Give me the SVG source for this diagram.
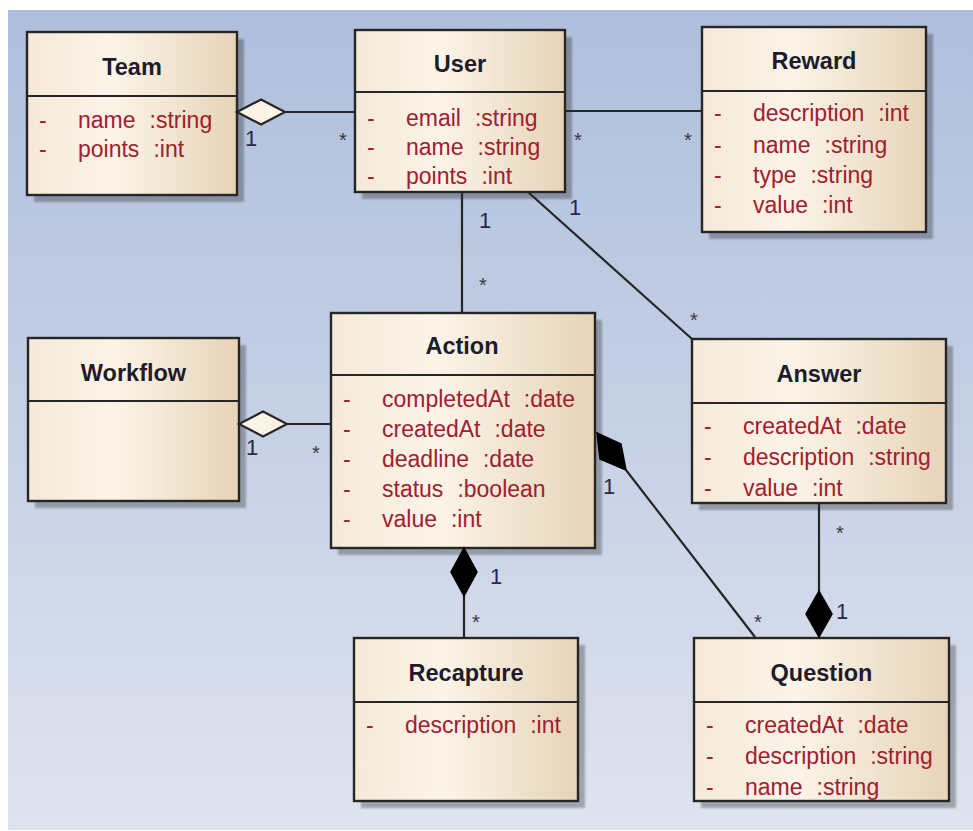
<svg xmlns="http://www.w3.org/2000/svg" width="973" height="831" viewBox="0 0 973 831">
  <defs>
    <linearGradient id="bg" x1="0" y1="0" x2="0" y2="1">
      <stop offset="0" stop-color="#aebedc"/>
      <stop offset="1" stop-color="#dee3ef"/>
    </linearGradient>
    <linearGradient id="cls" x1="0" y1="0" x2="1" y2="0">
      <stop offset="0" stop-color="#f5e9d8"/>
      <stop offset="0.4" stop-color="#fcf4e8"/>
      <stop offset="1" stop-color="#e6d4b8"/>
    </linearGradient>
    <filter id="soft" x="-10%" y="-10%" width="120%" height="120%">
      <feGaussianBlur stdDeviation="1.2"/>
    </filter>
    <style>
      .shadow { fill: #000; opacity: 0.27; filter: url(#soft); }
      .box { fill: url(#cls); stroke: #262626; stroke-width: 2.4; }
      .div { stroke: #262626; stroke-width: 2.2; }
      .title { font-family: "Liberation Sans", Arial, sans-serif; font-weight: bold; font-size: 23.5px; fill: #1c1c2c; text-anchor: middle; }
      .attr { font-family: "Liberation Sans", Arial, sans-serif; font-size: 23px; fill: #a0202e; }
      .line { fill: none; stroke: #262626; stroke-width: 2.2; }
      .hollow { fill: #fbf3e6; stroke: #262626; stroke-width: 2.2; stroke-linejoin: miter; }
      .solid { fill: #000; stroke: #000; stroke-width: 1.5; }
      .mult { font-family: "Liberation Sans", Arial, sans-serif; font-size: 22px; fill: #2a2a48; }
      .star { font-family: "Liberation Sans", Arial, sans-serif; font-size: 20px; fill: #3a3a46; }
    </style>
  </defs>

  <!-- canvas -->
  <rect x="8" y="10" width="965" height="820" fill="url(#bg)"/>

  <!-- classes -->
  <g id="team">
    <rect class="shadow" x="34" y="39" width="210" height="163"/>
    <rect class="box" x="27" y="32" width="210" height="163"/>
    <line class="div" x1="27" y1="96" x2="237" y2="96"/>
    <text class="title" x="132" y="75">Team</text>
    <text class="attr" y="128"><tspan x="39">-</tspan><tspan x="78">name</tspan><tspan dx="14">:string</tspan></text>
    <text class="attr" y="157"><tspan x="39">-</tspan><tspan x="78">points</tspan><tspan dx="14">:int</tspan></text>
  </g>

  <g id="user">
    <rect class="shadow" x="362" y="37" width="210" height="162"/>
    <rect class="box" x="355" y="30" width="210" height="162"/>
    <line class="div" x1="355" y1="92" x2="565" y2="92"/>
    <text class="title" x="460" y="72">User</text>
    <text class="attr" y="126"><tspan x="367">-</tspan><tspan x="406">email</tspan><tspan dx="14">:string</tspan></text>
    <text class="attr" y="155"><tspan x="367">-</tspan><tspan x="406">name</tspan><tspan dx="14">:string</tspan></text>
    <text class="attr" y="184"><tspan x="367">-</tspan><tspan x="406">points</tspan><tspan dx="14">:int</tspan></text>
  </g>

  <g id="reward">
    <rect class="shadow" x="709" y="34" width="224" height="205"/>
    <rect class="box" x="702" y="27" width="224" height="205"/>
    <line class="div" x1="702" y1="91" x2="926" y2="91"/>
    <text class="title" x="814" y="69">Reward</text>
    <text class="attr" y="121"><tspan x="714">-</tspan><tspan x="753">description</tspan><tspan dx="14">:int</tspan></text>
    <text class="attr" y="153"><tspan x="714">-</tspan><tspan x="753">name</tspan><tspan dx="14">:string</tspan></text>
    <text class="attr" y="183"><tspan x="714">-</tspan><tspan x="753">type</tspan><tspan dx="14">:string</tspan></text>
    <text class="attr" y="213"><tspan x="714">-</tspan><tspan x="753">value</tspan><tspan dx="14">:int</tspan></text>
  </g>

  <g id="workflow">
    <rect class="shadow" x="35" y="345" width="211" height="163"/>
    <rect class="box" x="28" y="338" width="211" height="163"/>
    <line class="div" x1="28" y1="401" x2="239" y2="401"/>
    <text class="title" x="133.5" y="381">Workflow</text>
  </g>

  <g id="action">
    <rect class="shadow" x="338" y="320" width="264" height="235"/>
    <rect class="box" x="331" y="313" width="264" height="235"/>
    <line class="div" x1="331" y1="375" x2="595" y2="375"/>
    <text class="title" x="462" y="354">Action</text>
    <text class="attr" y="407"><tspan x="343">-</tspan><tspan x="382">completedAt</tspan><tspan dx="14">:date</tspan></text>
    <text class="attr" y="437"><tspan x="343">-</tspan><tspan x="382">createdAt</tspan><tspan dx="14">:date</tspan></text>
    <text class="attr" y="467"><tspan x="343">-</tspan><tspan x="382">deadline</tspan><tspan dx="14">:date</tspan></text>
    <text class="attr" y="497"><tspan x="343">-</tspan><tspan x="382">status</tspan><tspan dx="14">:boolean</tspan></text>
    <text class="attr" y="527"><tspan x="343">-</tspan><tspan x="382">value</tspan><tspan dx="14">:int</tspan></text>
  </g>

  <g id="answer">
    <rect class="shadow" x="699" y="346" width="254" height="164"/>
    <rect class="box" x="692" y="339" width="254" height="164"/>
    <line class="div" x1="692" y1="403" x2="946" y2="403"/>
    <text class="title" x="819" y="382">Answer</text>
    <text class="attr" y="434"><tspan x="704">-</tspan><tspan x="743">createdAt</tspan><tspan dx="14">:date</tspan></text>
    <text class="attr" y="465"><tspan x="704">-</tspan><tspan x="743">description</tspan><tspan dx="14">:string</tspan></text>
    <text class="attr" y="496"><tspan x="704">-</tspan><tspan x="743">value</tspan><tspan dx="14">:int</tspan></text>
  </g>

  <g id="recapture">
    <rect class="shadow" x="361" y="645" width="224" height="163"/>
    <rect class="box" x="354" y="638" width="224" height="163"/>
    <line class="div" x1="354" y1="702" x2="578" y2="702"/>
    <text class="title" x="466" y="681">Recapture</text>
    <text class="attr" y="733"><tspan x="366">-</tspan><tspan x="405">description</tspan><tspan dx="14">:int</tspan></text>
  </g>

  <g id="question">
    <rect class="shadow" x="701" y="645" width="255" height="163"/>
    <rect class="box" x="694" y="638" width="255" height="163"/>
    <line class="div" x1="694" y1="702" x2="949" y2="702"/>
    <text class="title" x="821.5" y="681">Question</text>
    <text class="attr" y="733"><tspan x="706">-</tspan><tspan x="745">createdAt</tspan><tspan dx="14">:date</tspan></text>
    <text class="attr" y="764"><tspan x="706">-</tspan><tspan x="745">description</tspan><tspan dx="14">:string</tspan></text>
    <text class="attr" y="795"><tspan x="706">-</tspan><tspan x="745">name</tspan><tspan dx="14">:string</tspan></text>
  </g>

  <!-- associations, aggregations and compositions -->
  <g id="connectors">
    <!-- Team <>- User -->
    <line class="line" x1="285" y1="112" x2="355" y2="112"/>
    <polygon class="hollow" points="237,112 261,99.5 285,112 261,124.5"/>
    <text class="mult" x="245" y="146">1</text>
    <text class="star" x="339" y="147">*</text>

    <!-- User - Reward -->
    <line class="line" x1="565" y1="111" x2="702" y2="111"/>
    <text class="star" x="574" y="147">*</text>
    <text class="star" x="684" y="147">*</text>

    <!-- User - Action -->
    <line class="line" x1="462" y1="192" x2="462" y2="313"/>
    <text class="mult" x="479" y="228">1</text>
    <text class="star" x="479" y="292">*</text>

    <!-- User - Answer -->
    <line class="line" x1="528" y1="192" x2="692" y2="339"/>
    <text class="mult" x="569" y="215">1</text>
    <text class="star" x="690" y="327">*</text>

    <!-- Workflow <>- Action -->
    <line class="line" x1="287" y1="424" x2="331" y2="424"/>
    <polygon class="hollow" points="239,424 263,411.5 287,424 263,436.5"/>
    <text class="mult" x="246" y="455">1</text>
    <text class="star" x="312" y="460">*</text>

    <!-- Action <#>- Question -->
    <line class="line" x1="626" y1="470" x2="755" y2="637"/>
    <polygon class="solid" points="597,433 621,444 626,470 600,459"/>
    <text class="mult" x="603" y="494">1</text>
    <text class="star" x="754" y="629">*</text>

    <!-- Action <#>- Recapture -->
    <line class="line" x1="464" y1="596" x2="464" y2="638"/>
    <polygon class="solid" points="464,548 477,572 464,596 451,572"/>
    <text class="mult" x="490" y="584">1</text>
    <text class="star" x="472" y="629">*</text>

    <!-- Answer -<#> Question -->
    <line class="line" x1="819" y1="503" x2="819" y2="591"/>
    <polygon class="solid" points="819,591 832,614 819,637 806,614"/>
    <text class="star" x="836" y="540">*</text>
    <text class="mult" x="836" y="619">1</text>
  </g>
</svg>
